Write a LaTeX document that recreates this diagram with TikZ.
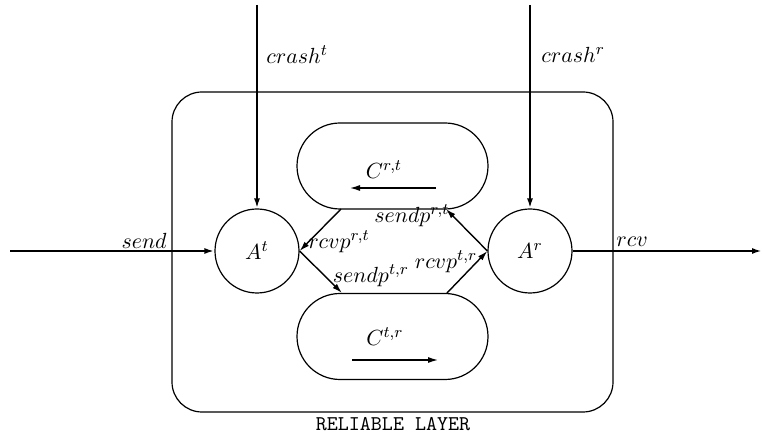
\documentclass[tikz,border=0pt]{standalone}
\usetikzlibrary{arrows.meta,shapes.misc}
\begin{document}
\begin{tikzpicture}[x=0.5pt,y=-0.5pt,
  font=\fontsize{11}{13}\selectfont,
  proc/.style={circle,draw,line width=0.6pt,minimum size=42pt,inner sep=0pt},
  chan/.style={rounded rectangle,draw,line width=0.6pt,minimum width=95.5pt,minimum height=43pt,inner sep=0pt},
  tip/.style={-{Latex[length=5pt,width=3pt]}},
  ext/.style={tip,line width=1.1pt},
  inner/.style={tip,line width=0.7pt},
  lbl/.style={inner sep=1pt}]
\useasboundingbox (0,0) rectangle (762,438);

% reliable layer frame
\draw[line width=0.6pt,rounded corners=15pt] (172,92) rectangle (613,412);
\node[font=\ttfamily\fontsize{10.5}{12}\selectfont] (layer) at (393,424) {RELIABLE LAYER};

% processes
\node[proc] (At) at (257,251) {$A^t$};
\node[proc] (Ar) at (530,251) {$A^r$};

% channels
\node[chan] (Crt) at (392.5,166) {};
\node[chan] (Ctr) at (392.5,336.5) {};
\node (CrtL) at (384,170) {$C^{r,t}$};
\node (CtrL) at (385,337) {$C^{t,r}$};

% direction arrows inside the channels
\coordinate (crtA) at (436,188);
\coordinate (crtB) at (350,188);
\coordinate (ctrA) at (352,360);
\coordinate (ctrB) at (438,360);
\draw[inner,line width=0.6pt] (crtA) -- (crtB);
\draw[inner,line width=0.6pt] (ctrA) -- (ctrB);

% ends of the straight channel edges
\coordinate (crtSW) at (341,209);
\coordinate (crtSE) at (446,209);
\coordinate (ctrNW) at (342,293);
\coordinate (ctrNE) at (447,293);

% channel connectors
\draw[inner] (crtSW) -- (At.east);
\draw[inner] (At.east) -- (ctrNW);
\draw[inner] (Ar.west) -- (crtSE);
\draw[inner] (ctrNE) -- (Ar.west);

\node[lbl] (l1) at (339,242) {$rcvp^{r,t}$};
\node[lbl] (l2) at (371,276) {$sendp^{t,r}$};
\node[lbl] (l3) at (412,216) {$sendp^{r,t}$};
\node[lbl] (l4) at (446,262) {$rcvp^{t,r}$};

% external actions
\coordinate (crashTin) at (257,5);
\coordinate (crashRin) at (530,5);
\coordinate (sendIn) at (10,251);
\coordinate (rcvOut) at (762,251);
\draw[ext,line width=1.3pt] (crashTin) -- (At.north);
\draw[ext,line width=1.3pt] (crashRin) -- (Ar.north);
\draw[ext] (sendIn) -- (At.west);
\draw[ext] (Ar.east) -- (rcvOut);

\node[lbl,anchor=west] (lct) at (264,55) {$crash^t$};
\node[lbl,anchor=west] (lcr) at (539,55) {$crash^r$};
\node[lbl,anchor=east] (ls) at (169,241) {$send$};
\node[lbl,anchor=west] (lr) at (614,242) {$rcv$};
\end{tikzpicture}
\end{document}
